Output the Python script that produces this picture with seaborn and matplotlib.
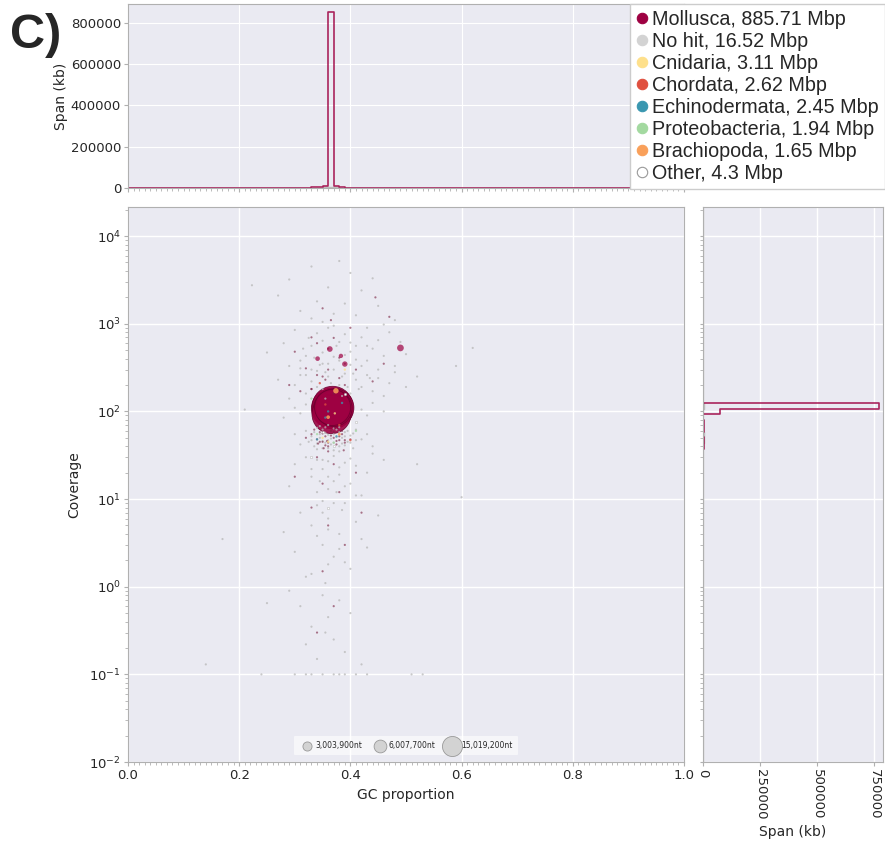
import numpy as np
import matplotlib
matplotlib.use('Agg')
import matplotlib.pyplot as plt
import seaborn as sns
from matplotlib.lines import Line2D
from matplotlib.ticker import MultipleLocator, NullFormatter

# =============================================================================
# 1. DATA
# =============================================================================
taxa = ['Mollusca', 'No hit', 'Cnidaria', 'Chordata', 'Echinodermata',
        'Proteobacteria', 'Brachiopoda', 'Other']
taxa_mbp = [885.71, 16.52, 3.11, 2.62, 2.45, 1.94, 1.65, 4.3]
taxa_colors = ['#9e0142', '#d3d3d3', '#fee08b', '#e0503f', '#3a97b0',
               '#a3d9a0', '#f9a05a', '#ffffff']

# chromosome-scale Mollusca scaffolds (the big blob)
big_gc = [0.366, 0.368, 0.369, 0.370, 0.367, 0.371, 0.368, 0.369, 0.372, 0.366, 0.370, 0.368]
big_cov = [108, 110, 112, 107, 111, 109, 113, 106, 110, 93, 109, 111]
big_span_mb = [60.4, 57.1, 55.3, 53.9, 51.2, 49.7, 62.8, 58.2, 54.5, 56.8, 50.4, 48.9]

# medium Mollusca contigs
mid_gc = [0.490, 0.363, 0.390, 0.383, 0.341]
mid_cov = [530, 515, 347, 430, 400]
mid_span_mb = [1.6, 1.1, 1.0, 0.6, 0.7]

# small Mollusca contigs
moll_gc = [0.30, 0.33, 0.35, 0.36, 0.37, 0.39, 0.41, 0.34, 0.355, 0.38, 0.32, 0.29, 0.33,
           0.365, 0.40, 0.31, 0.44, 0.46, 0.47, 0.445,
           0.33, 0.34, 0.35, 0.355, 0.36, 0.37, 0.38, 0.39, 0.345, 0.365, 0.375, 0.385,
           0.32, 0.40, 0.36, 0.34, 0.37, 0.35, 0.38, 0.33, 0.36, 0.39, 0.35, 0.37, 0.34,
           0.41, 0.30, 0.42, 0.335, 0.352, 0.372, 0.388, 0.358, 0.342,
           0.345, 0.35, 0.36, 0.37, 0.38, 0.39, 0.365, 0.355, 0.375, 0.385,
           0.33, 0.35, 0.37, 0.39, 0.36, 0.38, 0.34]
moll_cov = [480, 700, 1500, 520, 690, 350, 300, 260, 230, 240, 310, 200, 180,
            1100, 900, 170, 220, 350, 1200, 2000,
            55, 48, 45, 52, 40, 50, 47, 44, 58, 60, 42, 55,
            50, 48, 35, 30, 25, 15, 12, 8, 5, 3, 1.5, 0.6, 0.3,
            20, 18, 7, 62, 38, 65, 36, 46, 43,
            45, 56, 44, 58, 52, 47, 53, 41, 46, 60,
            180, 250, 160, 200, 300, 410, 600]

# no-hit contigs
nohit_gc = [0.29, 0.33, 0.36, 0.38, 0.40, 0.34, 0.31, 0.37, 0.42, 0.45, 0.48, 0.35, 0.27, 0.223,
            0.39, 0.44, 0.33, 0.41,
            0.28, 0.30, 0.32, 0.33, 0.34, 0.35, 0.36, 0.37, 0.38, 0.39, 0.40, 0.41, 0.42, 0.43,
            0.44, 0.45, 0.46, 0.47, 0.48, 0.49, 0.50, 0.29, 0.31, 0.35, 0.37, 0.43, 0.46, 0.59,
            0.62, 0.25, 0.40, 0.45,
            0.30, 0.31, 0.32, 0.33, 0.34, 0.35, 0.36, 0.38, 0.39, 0.40, 0.41, 0.42, 0.43, 0.44,
            0.45, 0.46, 0.47, 0.48, 0.29, 0.27, 0.50, 0.52, 0.385, 0.355,
            0.30, 0.31, 0.32, 0.42, 0.43, 0.44, 0.46, 0.28, 0.21,
            0.32, 0.325, 0.33, 0.335, 0.34, 0.345, 0.35, 0.355, 0.36, 0.365, 0.37, 0.375, 0.38,
            0.385, 0.39, 0.395, 0.40, 0.405, 0.41, 0.42, 0.43, 0.31, 0.30, 0.44, 0.345, 0.36,
            0.38, 0.35, 0.37, 0.39,
            0.30, 0.32, 0.33, 0.34, 0.35, 0.36, 0.37, 0.38, 0.39, 0.40, 0.41, 0.42, 0.43, 0.29,
            0.36, 0.345, 0.375, 0.44, 0.46, 0.52, 0.60,
            0.31, 0.33, 0.34, 0.35, 0.36, 0.37, 0.38, 0.39, 0.40, 0.41, 0.42, 0.30, 0.32, 0.355,
            0.385, 0.43, 0.45, 0.28, 0.35, 0.36, 0.17,
            0.31, 0.33, 0.35, 0.36, 0.37, 0.38, 0.39, 0.34, 0.40, 0.32, 0.355, 0.42, 0.29, 0.14,
            0.25,
            0.24, 0.30, 0.32, 0.33, 0.35, 0.37, 0.38, 0.39, 0.41, 0.43, 0.51, 0.53,
            0.31, 0.315, 0.32, 0.325, 0.33, 0.335, 0.34, 0.345, 0.35, 0.355, 0.36, 0.365, 0.37,
            0.375, 0.38, 0.385, 0.39, 0.395, 0.40, 0.405, 0.41, 0.415, 0.42, 0.43, 0.435,
            0.33, 0.335, 0.34, 0.345, 0.35, 0.355, 0.36, 0.365, 0.37, 0.375, 0.38, 0.385,
            0.39, 0.395, 0.40, 0.405, 0.41, 0.34, 0.36, 0.38, 0.355, 0.37,
            0.33, 0.34, 0.35, 0.36, 0.37, 0.38, 0.39, 0.40, 0.35, 0.37, 0.36, 0.38, 0.34,
            0.39, 0.33, 0.41]
nohit_cov = [3200, 4500, 2600, 5200, 3800, 1800, 1400, 1300, 2400, 1600, 1100, 1050, 2100, 2750,
             1700, 3300, 1150, 1250,
             600, 850, 430, 560, 780, 350, 900, 420, 620, 760, 480, 560, 700, 380,
             520, 650, 430, 800, 330, 620, 450, 330, 310, 640, 950, 900, 980, 330,
             530, 470, 340, 300,
             200, 260, 160, 220, 290, 180, 250, 200, 270, 160, 230, 190, 260, 170,
             240, 150, 210, 280, 140, 230, 190, 250, 150, 140,
             110, 95, 120, 105, 90, 125, 100, 85, 105,
             60, 45, 52, 40, 65, 50, 38, 57, 47, 42, 55, 62, 40,
             50, 58, 45, 53, 38, 62, 48, 55, 42, 55, 40, 68, 70,
             66, 46, 36, 41,
             25, 30, 18, 28, 22, 13, 31, 19, 26, 15, 24, 11, 20, 14,
             27, 16, 12, 33, 28, 25, 10.5,
             7, 5, 8.5, 3, 6, 2.2, 4, 9, 1.6, 5.5, 3.5, 2.5, 1.3, 1.1,
             7.5, 2.8, 6.5, 4.2, 9.5, 1.8, 3.5,
             0.6, 0.35, 0.8, 0.45, 0.25, 0.7, 0.18, 0.15, 0.5, 0.22, 0.3, 0.13, 0.9, 0.13,
             0.65,
             0.1, 0.1, 0.1, 0.1, 0.1, 0.1, 0.1, 0.1, 0.1, 0.1, 0.1, 0.1,
             380, 520, 260, 690, 300, 410, 190, 340, 470, 280, 350, 210, 300,
             560, 380, 250, 440, 190, 610, 270, 390, 180, 330, 560, 240,
             47, 58, 43, 55, 62, 44, 54, 49, 44, 51, 58, 43,
             52, 60, 44, 56, 47, 37, 38, 35, 66, 64,
             22, 12, 28, 18, 9, 23, 14, 29, 7, 16, 4.5, 2.7, 3.8,
             1.9, 1.4, 11]

# the few coloured contaminant hits
cnid_gc = [0.372, 0.35, 0.39, 0.36]
cnid_cov = [95, 50, 300, 45]
chor_gc = [0.38, 0.355, 0.40, 0.345]
chor_cov = [70, 120, 47, 210]
echi_gc = [0.36, 0.355, 0.375, 0.34, 0.385]
echi_cov = [100, 85, 52, 48, 125]
prot_gc = [0.34, 0.37, 0.41, 0.33]
prot_cov = [55, 44, 60, 140]
brac_gc = [0.374, 0.36, 0.38]
brac_cov = [172, 86, 55]
brac_span_mb = [1.0, 0.4, 0.2]
other_gc = [0.35, 0.37, 0.39, 0.33, 0.41, 0.36]
other_cov = [58, 40, 160, 30, 75, 8]

# top histogram: span (kb) per 0.01 GC bin
moll_gc_bin = [0.335, 0.345, 0.355, 0.365, 0.375, 0.385, 0.395]
moll_gc_span = [2500, 5000, 10000, 852000, 9000, 4000, 1500]
nohit_gc_bin = [0.315, 0.325, 0.335, 0.345, 0.355, 0.365, 0.375, 0.385, 0.395, 0.405]
nohit_gc_span = [600, 900, 1500, 2200, 2800, 3000, 2300, 1500, 900, 500]

# right histogram: span (kb) per log-coverage bin
moll_cov_bin = [111, 93, 75, 60, 50, 42, 30]
moll_cov_span = [772000, 75000, 3000, 6000, 5000, 3000, 1500]
nohit_cov_bin = [400, 110, 55, 45, 20, 5]
nohit_cov_span = [1500, 2500, 4000, 3500, 1500, 800]

size_legend_nt = [3003900, 6007700, 15019200]

# =============================================================================
# 2. STYLE
# =============================================================================
sns.set_style('darkgrid', {'axes.facecolor': '#eaeaf2', 'axes.edgecolor': '#b0b0b0',
                           'grid.color': 'white', 'xtick.bottom': True, 'ytick.left': True})
plt.rcParams['font.family'] = ['DejaVu Sans']
plt.rcParams['axes.linewidth'] = 0.8

AREA_PER_NT = 207 / 15019200  # marker area (pt^2) per nucleotide


def nt_to_s(span_nt):
    return 1.5 + np.asarray(span_nt) * AREA_PER_NT


fig = plt.figure(figsize=(8.85, 8.41), dpi=100)
ax_main = fig.add_axes([0.1446, 0.0939, 0.6283, 0.6600])
ax_top = fig.add_axes([0.1446, 0.7765, 0.6283, 0.2187])
ax_right = fig.add_axes([0.7944, 0.0939, 0.2033, 0.6600])

col = dict(zip(taxa, taxa_colors))

# =============================================================================
# 3. MAIN BLOB SCATTER
# =============================================================================
sns.scatterplot(x=big_gc, y=big_cov, s=nt_to_s(np.array(big_span_mb) * 1e6),
                color=col['Mollusca'], edgecolor='#6d0030', linewidth=0.6, alpha=0.9,
                ax=ax_main, legend=False)
sns.scatterplot(x=nohit_gc, y=nohit_cov, s=2.5, color='#b8b8b8', edgecolor='none',
                alpha=0.75, ax=ax_main, legend=False)
sns.scatterplot(x=moll_gc, y=moll_cov, s=2.5, color='#7a2040', edgecolor='none',
                alpha=0.6, ax=ax_main, legend=False)
sns.scatterplot(x=mid_gc, y=mid_cov, s=nt_to_s(np.array(mid_span_mb) * 1e6),
                color=col['Mollusca'], edgecolor='none', alpha=0.7, ax=ax_main, legend=False)
for g, c, name in [(cnid_gc, cnid_cov, 'Cnidaria'), (chor_gc, chor_cov, 'Chordata'),
                   (echi_gc, echi_cov, 'Echinodermata'), (prot_gc, prot_cov, 'Proteobacteria')]:
    sns.scatterplot(x=g, y=c, s=3, color=col[name], edgecolor='none', alpha=0.75,
                    ax=ax_main, legend=False)
sns.scatterplot(x=brac_gc, y=brac_cov, s=nt_to_s(np.array(brac_span_mb) * 1e6),
                color=col['Brachiopoda'], edgecolor='none', alpha=0.85, ax=ax_main, legend=False)
sns.scatterplot(x=other_gc, y=other_cov, s=3, color='white', edgecolor='#aaaaaa',
                linewidth=0.3, ax=ax_main, legend=False)

ax_main.set_yscale('log')
ax_main.set_xlim(0, 1)
ax_main.set_ylim(0.01, 21500)
ax_main.xaxis.set_major_locator(MultipleLocator(0.2))
ax_main.xaxis.set_minor_locator(MultipleLocator(0.01))
ax_main.tick_params(axis='both', which='major', labelsize=9.5, length=3, color='#b0b0b0', pad=2)
ax_main.tick_params(axis='x', which='minor', length=2, color='#b0b0b0')
ax_main.tick_params(axis='y', which='minor', length=2, color='#b0b0b0')
ax_main.set_xlabel('GC proportion', fontsize=10, labelpad=4)
ax_main.set_ylabel('Coverage', fontsize=10, labelpad=6)
ax_main.grid(True, which='major', color='white', linewidth=1)

# size legend
size_handles = [ax_main.scatter([], [], s=nt_to_s(n), color='#d3d3d3', edgecolor='#999999',
                                linewidth=0.6) for n in size_legend_nt]
size_labels = [f'{n:,}nt' for n in size_legend_nt]
leg_size = ax_main.legend(size_handles, size_labels, ncol=3, loc='lower center',
                          bbox_to_anchor=(0.5, 0.005), fontsize=5.5, frameon=True,
                          framealpha=0.6, edgecolor='none', facecolor='white',
                          handletextpad=0.2, columnspacing=1.2, borderpad=0.7)

# =============================================================================
# 4. MARGINAL HISTOGRAMS
# =============================================================================
sns.histplot(x=nohit_gc_bin, weights=nohit_gc_span, binwidth=0.01, binrange=(0, 1),
             element='step', fill=False, color='#bdbdbd', linewidth=1.0, ax=ax_top)
sns.histplot(x=moll_gc_bin, weights=moll_gc_span, binwidth=0.01, binrange=(0, 1),
             element='step', fill=False, color=col['Mollusca'], linewidth=1.2, alpha=0.85,
             ax=ax_top)
ax_top.set_xlim(0, 1)
ax_top.set_ylim(0, 892000)
ax_top.xaxis.set_major_locator(MultipleLocator(0.2))
ax_top.xaxis.set_minor_locator(MultipleLocator(0.01))
ax_top.xaxis.set_major_formatter(NullFormatter())
ax_top.yaxis.set_major_locator(MultipleLocator(200000))
ax_top.tick_params(axis='both', which='major', labelsize=9.5, length=3, color='#b0b0b0', pad=2)
ax_top.tick_params(axis='x', which='minor', length=2, color='#b0b0b0')
ax_top.set_xlabel('')
ax_top.set_ylabel('Span (kb)', fontsize=10, labelpad=2)

# coverage bins are in log10 units because the axis is log scaled
sns.histplot(y=nohit_cov_bin, weights=nohit_cov_span, binwidth=0.065, binrange=(-2.015, 4.38),
             log_scale=(False, True), element='step', fill=False, color='#bdbdbd',
             linewidth=1.0, ax=ax_right)
sns.histplot(y=moll_cov_bin, weights=moll_cov_span, binwidth=0.065, binrange=(-2.015, 4.38),
             log_scale=(False, True), element='step', fill=False, color=col['Mollusca'],
             linewidth=1.2, alpha=0.85, ax=ax_right)
ax_right.set_ylim(0.01, 21500)
ax_right.set_xlim(0, 789000)
ax_right.xaxis.set_major_locator(MultipleLocator(250000))
ax_right.yaxis.set_major_formatter(NullFormatter())
ax_right.yaxis.set_minor_formatter(NullFormatter())
ax_right.tick_params(axis='x', which='major', labelsize=9.5, length=3, color='#b0b0b0',
                     labelrotation=270, pad=2)
ax_right.tick_params(axis='y', which='both', length=2, color='#b0b0b0')
ax_right.set_ylabel('')
ax_right.set_xlabel('Span (kb)', fontsize=10, labelpad=4)
ax_right.grid(True, which='major', color='white', linewidth=1)

for a in (ax_main, ax_top, ax_right):
    for sp in a.spines.values():
        sp.set_visible(True)
        sp.set_color('#b0b0b0')
        sp.set_linewidth(0.8)

# =============================================================================
# 5. TAXON LEGEND + PANEL LABEL
# =============================================================================
handles = []
for name, c in zip(taxa, taxa_colors):
    edge = '#999999' if name == 'Other' else c
    handles.append(Line2D([], [], linestyle='none', marker='o', markersize=7.5,
                          markerfacecolor=c, markeredgecolor=edge, markeredgewidth=0.8))
labels = [f'{t}, {m} Mbp' for t, m in zip(taxa, taxa_mbp)]
fig.legend(handles, labels, loc='upper right', bbox_to_anchor=(1.0, 0.995),
           prop={'family': 'Liberation Sans', 'size': 14.2}, frameon=True, fancybox=False,
           edgecolor='#cccccc', facecolor='white', framealpha=1, handlelength=0.6,
           handletextpad=0.25, labelspacing=0.15, borderpad=0.3, borderaxespad=0)

fig.text(0.011, 0.985, 'C)', fontsize=35, fontweight='bold', family='Liberation Sans',
         va='top', ha='left')

fig.savefig('out.png', dpi=100)
